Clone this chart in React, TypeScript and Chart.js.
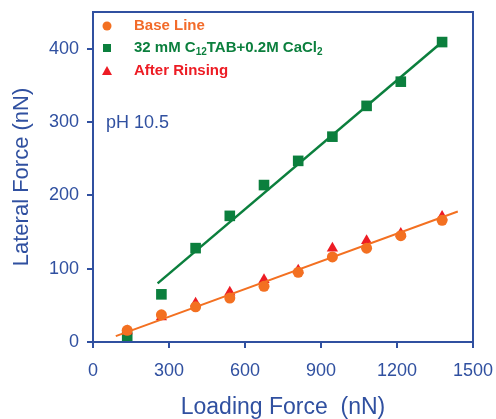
import React, { useEffect, useRef } from "react";
import { Chart, registerables } from "chart.js";

Chart.register(...registerables);

// ---- data ----
const loadingForce = [135, 270, 405, 540, 675, 810, 945, 1080, 1215, 1378];
const baseLine = [16, 37, 48, 60, 76, 95, 116, 128, 145, 166];
const surfactant = [7, 65, 128, 172, 214, 247, 280, 322, 355, 409];
const afterRinsing = [15, 34, 53, 68, 85, 98, 128, 138, 148, 171];

const baseFitX = [90, 1440];
const baseFitY = [8, 178];
const surfFitX = [255, 1378];
const surfFitY = [80, 409];

const xTicks = [0, 300, 600, 900, 1200, 1500];
const yTicks = [0, 100, 200, 300, 400];

const legendLabels = ["Base Line", "32 mM C12TAB+0.2M CaCl2", "After Rinsing"];
const annotationText = "pH 10.5";

// ---- styles ----
const FONT = "'Liberation Sans', Arial, Helvetica, sans-serif";
const BLUE = "#3050A0";
const ORANGE = "#F37021";
const ORANGE_TEXT = "#F26B2A";
const GREEN = "#0B7F3D";
const RED = "#ED1C24";

const toPts = (xs: number[], ys: number[]) => xs.map((x, i) => ({ x, y: ys[i] }));

const overlayPlugin = {
  id: "overlay",
  afterDraw(chart: any) {
    const ctx = chart.ctx as CanvasRenderingContext2D;
    const a = chart.chartArea;
    ctx.save();
    // plot box
    ctx.strokeStyle = BLUE;
    ctx.lineWidth = 2;
    ctx.strokeRect(a.left, a.top, a.right - a.left, a.bottom - a.top);

    // legend
    const mx = a.left + 14;
    const tx = a.left + 41;
    const rows = [a.top + 14, a.top + 36, a.top + 59];
    ctx.fillStyle = ORANGE;
    ctx.beginPath();
    ctx.arc(mx, rows[0], 4.5, 0, Math.PI * 2);
    ctx.fill();
    ctx.fillStyle = GREEN;
    ctx.fillRect(mx - 4, rows[1] - 4, 8, 8);
    ctx.fillStyle = RED;
    ctx.beginPath();
    ctx.moveTo(mx, rows[2] - 5);
    ctx.lineTo(mx + 5, rows[2] + 4);
    ctx.lineTo(mx - 5, rows[2] + 4);
    ctx.closePath();
    ctx.fill();

    ctx.textBaseline = "middle";
    ctx.textAlign = "left";
    const big = `bold 15px ${FONT}`;
    const small = `bold 10px ${FONT}`;
    ctx.font = big;
    ctx.fillStyle = ORANGE_TEXT;
    ctx.fillText(legendLabels[0], tx, rows[0]);
    ctx.fillStyle = RED;
    ctx.fillText(legendLabels[2], tx, rows[2]);

    const lbl = legendLabels[1];
    const i12 = lbl.indexOf("C12");
    const segs: { t: string; sub: boolean }[] = [
      { t: lbl.slice(0, i12 + 1), sub: false },
      { t: "12", sub: true },
      { t: lbl.slice(i12 + 3, lbl.length - 1), sub: false },
      { t: lbl.slice(lbl.length - 1), sub: true },
    ];
    ctx.fillStyle = GREEN;
    let x = tx;
    for (const s of segs) {
      ctx.font = s.sub ? small : big;
      ctx.fillText(s.t, x, rows[1] + (s.sub ? 4 : 0));
      x += ctx.measureText(s.t).width;
    }

    ctx.font = `18px ${FONT}`;
    ctx.fillStyle = BLUE;
    ctx.fillText(annotationText, a.left + 13, a.top + 111);
    ctx.restore();
  },
};

const zeroPad = (s: any) => {
  s.paddingTop = 0;
  s.paddingBottom = 0;
  s.paddingLeft = 0;
  s.paddingRight = 0;
};

export default function App() {
  const ref = useRef<HTMLCanvasElement | null>(null);

  useEffect(() => {
    if (!ref.current) return;
    const chart = new Chart(ref.current, {
      type: "scatter",
      data: {
        datasets: [
          {
            label: "Base fit",
            data: toPts(baseFitX, baseFitY),
            showLine: true,
            borderColor: ORANGE,
            borderWidth: 2,
            pointRadius: 0,
            order: 0,
          },
          {
            label: "Surf fit",
            data: toPts(surfFitX, surfFitY),
            showLine: true,
            borderColor: GREEN,
            borderWidth: 2.5,
            pointRadius: 0,
            order: 0,
          },
          {
            label: legendLabels[0],
            data: toPts(loadingForce, baseLine),
            pointStyle: "circle",
            pointRadius: 5.5,
            backgroundColor: ORANGE,
            borderColor: ORANGE,
            borderWidth: 0,
            order: 1,
          },
          {
            label: legendLabels[2],
            data: toPts(loadingForce, afterRinsing),
            pointStyle: "triangle",
            pointRadius: 6.5,
            backgroundColor: RED,
            borderColor: RED,
            borderWidth: 0,
            order: 2,
          },
          {
            label: legendLabels[1],
            data: toPts(loadingForce, surfactant),
            pointStyle: "rect",
            pointRadius: 7.5,
            backgroundColor: GREEN,
            borderColor: GREEN,
            borderWidth: 0,
            order: 3,
          },
        ],
      },
      options: {
        responsive: false,
        animation: false,
        devicePixelRatio: 1,
        layout: { padding: { top: 12, right: 23, left: 0, bottom: 0 } },
        plugins: {
          legend: { display: false },
          tooltip: { enabled: false },
        },
        scales: {
          x: {
            type: "linear",
            min: xTicks[0],
            max: xTicks[xTicks.length - 1],
            afterBuildTicks: (s: any) => {
              s.ticks = xTicks.map((v) => ({ value: v }));
            },
            afterFit: (s: any) => {
              s.height = 77;
              zeroPad(s);
            },
            ticks: {
              color: BLUE,
              font: { size: 18, family: FONT },
              padding: 12,
              maxRotation: 0,
              autoSkip: false,
              callback: (v: any) => String(v),
            },
            grid: {
              drawOnChartArea: false,
              drawTicks: true,
              tickLength: 6,
              color: BLUE,
              lineWidth: 2,
            },
            border: { color: BLUE, width: 2 },
            title: {
              display: true,
              text: "Loading Force  (nN)",
              color: BLUE,
              font: { size: 23, family: FONT, lineHeight: 1 },
              padding: { top: 0, bottom: 0 },
            },
          },
          y: {
            type: "linear",
            min: 0,
            max: 450,
            afterBuildTicks: (s: any) => {
              s.ticks = yTicks.map((v) => ({ value: v }));
            },
            afterFit: (s: any) => {
              s.width = 93;
              zeroPad(s);
            },
            ticks: {
              color: BLUE,
              font: { size: 18, family: FONT },
              padding: 8,
              autoSkip: false,
              callback: (v: any) => String(v),
            },
            grid: {
              drawOnChartArea: false,
              drawTicks: true,
              tickLength: 6,
              color: BLUE,
              lineWidth: 2,
            },
            border: { color: BLUE, width: 2 },
            title: {
              display: true,
              text: "Lateral Force (nN)",
              color: BLUE,
              font: { size: 22, family: FONT, lineHeight: 1 },
              padding: { top: 11, bottom: 0 },
            },
          },
        },
      },
      plugins: [overlayPlugin],
    } as any);
    return () => chart.destroy();
  }, []);

  return (
    <div style={{ position: "absolute", left: 0, top: 0, width: 496, height: 419, background: "#fff" }}>
      <canvas ref={ref} width={496} height={419} />
    </div>
  );
}
